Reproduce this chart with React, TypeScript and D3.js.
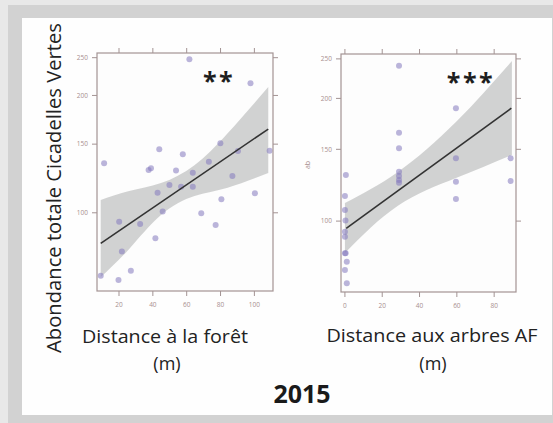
import * as d3 from "d3";

// Left panel: distance to forest (m) vs abundance
const forestX = [61.6, 97.7, 43.8, 57.7, 79.9, 11.2, 90.3, 73.1, 37.5, 38.9, 53.7, 63.6, 87, 49.8, 42.8, 56.7, 63.6, 100.3, 80.5, 45.8, 68.6, 77.1, 20.1, 32.5, 41.5, 21.7, 27, 9.2, 19.7, 109];
const forestY = [247.6, 214.9, 145.5, 141.3, 150.8, 134, 144, 135.2, 128.8, 130, 128.4, 126.7, 124.3, 117.8, 112.6, 116.7, 116.7, 112.2, 108.3, 100.7, 99.7, 93, 94.9, 93.6, 86, 79.5, 71, 68.9, 67.2, 144.3];
const forestFitX = [9.2, 108.2];
const forestFitY = [83.5, 164];
const forestBandX = [9.2, 26, 44.8, 64.6, 84.2, 108.2];
const forestBandLo = [68.4, 80.8, 98.7, 110.4, 116, 126.5];
const forestBandHi = [107.9, 113.7, 119.2, 132.5, 160, 210.2];

// Right panel: distance to agroforestry trees (m) vs abundance
const treesX = [29, 29, 29, 29, 29, 29, 29, 59.5, 59.5, 59.5, 59.5, 88.8, 88.8, 0.5, 0, 0, 0.3, 0, 0, 0, 0.4, 1, 0, 1];
const treesY = [240.6, 164.8, 150.9, 132.2, 129, 126.2, 124.2, 189.2, 142.6, 124.9, 113.3, 142.6, 125.4, 129.8, 115.2, 106.5, 100.3, 94.2, 91.6, 83.4, 83.4, 79.5, 75.9, 70.4];
const treesFitX = [0.7, 89.2];
const treesFitY = [96, 189.2];
const treesBandX = [0, 28.4, 59.5, 89.5];
const treesBandLo = [83.5, 109, 127.5, 145.3];
const treesBandHi = [110.8, 132, 175, 247];

const forestTicksX = [20, 40, 60, 80, 100];
const treesTicksX = [0, 20, 40, 60, 80];
const ticksY = [100, 150, 200, 250];

const axisColor = "#a39393";
const labelFont = "'Open Sans', sans-serif";

interface PanelProps {
  id: string;
  xs: number[];
  ys: number[];
  fitX: number[];
  fitY: number[];
  bandX: number[];
  bandLo: number[];
  bandHi: number[];
  xDomain: [number, number];
  yDomain: [number, number];
  box: { left: number; right: number; top: number; bottom: number };
  xTicks: number[];
  stars: string;
  starsX: number;
}

function Panel({ id, xs, ys, fitX, fitY, bandX, bandLo, bandHi, xDomain, yDomain, box, xTicks, stars, starsX }: PanelProps) {
  const x = d3.scaleLinear().domain(xDomain).range([box.left, box.right]);
  const y = d3.scaleLog().domain(yDomain).range([box.bottom, box.top]);

  const band = d3.area<number>()
    .x((_, i) => x(bandX[i]))
    .y0((_, i) => y(bandLo[i]))
    .y1(d => y(d))
    .curve(d3.curveNatural);

  const fit = d3.line<number>()
    .x((_, i) => x(fitX[i]))
    .y(d => y(d));

  const tick = 5;

  return (
    <g>
      <defs>
        <clipPath id={`clip-${id}`}>
          <rect x={box.left} y={box.top} width={box.right - box.left} height={box.bottom - box.top} />
        </clipPath>
      </defs>
      <rect x={box.left} y={box.top} width={box.right - box.left} height={box.bottom - box.top} fill="#fdfdfd" />
      <g clipPath={`url(#clip-${id})`}>
        <path d={band(bandHi) ?? ""} fill="#c9caca" fillOpacity={0.85} />
        {xs.map((v, i) => (
          <circle key={i} cx={x(v)} cy={y(ys[i])} r={3} fill="#8379bd" fillOpacity={0.55} />
        ))}
        <path d={fit(fitY) ?? ""} fill="none" stroke="#333" strokeWidth={1.6} />
      </g>
      <rect x={box.left} y={box.top} width={box.right - box.left} height={box.bottom - box.top} fill="none" stroke={axisColor} strokeWidth={1.2} />
      {xTicks.map(t => (
        <g key={`x${t}`}>
          <line x1={x(t)} x2={x(t)} y1={box.bottom} y2={box.bottom + tick} stroke={axisColor} />
          <line x1={x(t)} x2={x(t)} y1={box.top} y2={box.top - tick} stroke={axisColor} />
          <text x={x(t)} y={box.bottom + 16} fontSize={6.5} fill="#a88f8f" textAnchor="middle" fontFamily={labelFont}>{t}</text>
        </g>
      ))}
      {ticksY.map(t => (
        <g key={`y${t}`}>
          <line x1={box.left} x2={box.left - tick} y1={y(t)} y2={y(t)} stroke={axisColor} />
          <line x1={box.right} x2={box.right + tick} y1={y(t)} y2={y(t)} stroke={axisColor} />
          <text x={box.left - 9} y={y(t) + 2.2} fontSize={6.5} fill="#a88f8f" textAnchor="end" fontFamily={labelFont}>{t}</text>
        </g>
      ))}
      <text x={starsX} y={box.top + 37} fontSize={25} fontWeight="bold" fill="#1e1e1e" textAnchor="middle" letterSpacing={2.5} fontFamily={labelFont}>{stars}</text>
    </g>
  );
}

export default function App() {
  return (
    <div style={{ position: "fixed", left: 0, top: 0 }}>
      <svg width={553} height={423} style={{ display: "block" }}>
        <rect width={553} height={423} fill="#d2d2d2" />
        <rect width={553} height={5} fill="#e8e8e8" />
        <rect width={8} height={423} fill="#e8e8e8" />
        <rect x={22} y={18} width={530} height={397} fill="#fefefe" />

        <Panel
          id="forest"
          xs={forestX} ys={forestY}
          fitX={forestFitX} fitY={forestFitY}
          bandX={forestBandX} bandLo={forestBandLo} bandHi={forestBandHi}
          xDomain={[7, 111]} yDomain={[63, 257]}
          box={{ left: 97, right: 273, top: 53, bottom: 291 }}
          xTicks={forestTicksX}
          stars="**" starsX={219}
        />
        <Panel
          id="trees"
          xs={treesX} ys={treesY}
          fitX={treesFitX} fitY={treesFitY}
          bandX={treesBandX} bandLo={treesBandLo} bandHi={treesBandHi}
          xDomain={[-2.1, 91.7]} yDomain={[67, 257]}
          box={{ left: 341, right: 516, top: 54, bottom: 292 }}
          xTicks={treesTicksX}
          stars="***" starsX={471}
        />

        <text transform="translate(61,188) rotate(-90)" fontSize={20} fill="#222" textAnchor="middle"
          textLength={330} lengthAdjust="spacingAndGlyphs" fontFamily={labelFont}>
          Abondance totale Cicadelles Vertes
        </text>
        <text transform="translate(310,165) rotate(-90)" fontSize={7} fill="#a88f8f" textAnchor="middle" fontFamily={labelFont}>ab</text>

        <text x={165} y={343} fontSize={18} fill="#222" textAnchor="middle" textLength={166} lengthAdjust="spacingAndGlyphs" fontFamily={labelFont}>Distance à la forêt</text>
        <text x={167} y={370} fontSize={18} fill="#222" textAnchor="middle" fontFamily={labelFont}>(m)</text>
        <text x={432} y={342} fontSize={18} fill="#222" textAnchor="middle" textLength={211} lengthAdjust="spacingAndGlyphs" fontFamily={labelFont}>Distance aux arbres AF</text>
        <text x={433} y={370} fontSize={18} fill="#222" textAnchor="middle" fontFamily={labelFont}>(m)</text>
        <text x={302} y={403} fontSize={25} fontWeight="bold" fill="#1a1a1a" textAnchor="middle" fontFamily={labelFont}>2015</text>
      </svg>
    </div>
  );
}
